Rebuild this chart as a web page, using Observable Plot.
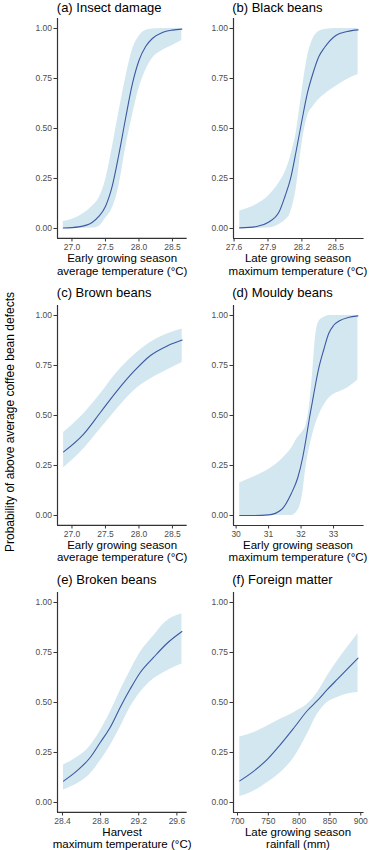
<!DOCTYPE html>
<html>
<head>
<meta charset="utf-8">
<script src="https://cdn.jsdelivr.net/npm/d3@7"></script>
<script src="https://cdn.jsdelivr.net/npm/@observablehq/plot@0.6"></script>
<style>
  html, body { margin: 0; padding: 0; background: #fff; }
  #wrap { position: relative; width: 369px; height: 850px; overflow: hidden; background: #fff;
          font-family: "Liberation Sans", Arial, sans-serif; color: #000; }
  .abs { position: absolute; }
  .ptitle { font-size: 13px; line-height: 15px; white-space: nowrap; }
  .xtitle { font-size: 11.5px; line-height: 12.5px; text-align: center; white-space: nowrap; }
  .ylab { font-size: 12px; line-height: 14px; white-space: nowrap; transform: translate(-50%, -50%) rotate(-90deg); }
</style>
</head>
<body>
<div id="wrap"></div>
<script>
// ---------- data ----------
const panelTitles = ["(a) Insect damage", "(b) Black beans", "(c) Brown beans", "(d) Mouldy beans", "(e) Broken beans", "(f) Foreign matter"];
const xTitles = [
  ["Early growing season", "average temperature (°C)"],
  ["Late growing season", "maximum temperature (°C)"],
  ["Early growing season", "average temperature (°C)"],
  ["Early growing season", "maximum temperature (°C)"],
  ["Harvest", "maximum temperature (°C)"],
  ["Late growing season", "rainfall (mm)"]
];
const yTitle = "Probability of above average coffee bean defects";
const yTicks = [0, 0.25, 0.5, 0.75, 1];

const insectTicks = [27.0, 27.5, 28.0, 28.5];
const insectX    = [26.87, 27.1, 27.3, 27.4, 27.5, 27.6, 27.7, 27.8, 27.9, 28.0, 28.1, 28.2, 28.35, 28.5, 28.64];
const insectMean = [0.002, 0.008, 0.03, 0.06, 0.11, 0.21, 0.37, 0.55, 0.72, 0.84, 0.91, 0.95, 0.98, 0.992, 0.997];
const insectLo   = [0, 0, 0.002, 0.01, 0.05, 0.10, 0.21, 0.40, 0.56, 0.70, 0.79, 0.85, 0.89, 0.915, 0.94];
const insectHi   = [0.035, 0.06, 0.11, 0.15, 0.24, 0.40, 0.58, 0.75, 0.89, 0.96, 0.99, 0.997, 1, 1, 1];

const blackTicks = [27.6, 27.9, 28.2, 28.5];
const blackX    = [27.65, 27.8, 27.9, 28.0, 28.05, 28.1, 28.15, 28.2, 28.25, 28.3, 28.35, 28.4, 28.5, 28.6, 28.697];
const blackMean = [0.003, 0.01, 0.03, 0.085, 0.16, 0.25, 0.39, 0.54, 0.68, 0.78, 0.86, 0.905, 0.965, 0.985, 0.993];
const blackLo   = [0, 0, 0.002, 0.02, 0.04, 0.08, 0.20, 0.42, 0.56, 0.61, 0.645, 0.67, 0.71, 0.745, 0.77];
const blackHi   = [0.087, 0.12, 0.16, 0.23, 0.28, 0.36, 0.48, 0.68, 0.86, 0.95, 0.985, 0.995, 1, 1, 1];

const brownTicks = [27.0, 27.5, 28.0, 28.5];
const brownX    = [26.875, 27.174, 27.424, 27.673, 27.923, 28.172, 28.422, 28.646];
const brownMean = [0.318, 0.407, 0.515, 0.623, 0.72, 0.80, 0.848, 0.877];
const brownLo   = [0.237, 0.332, 0.432, 0.532, 0.623, 0.682, 0.727, 0.765];
const brownHi   = [0.415, 0.507, 0.607, 0.715, 0.80, 0.865, 0.907, 0.932];

const mouldyTicks = [30, 31, 32, 33];
const mouldyX    = [30.11, 30.5, 31.0, 31.4, 31.7, 31.9, 32.05, 32.15, 32.25, 32.35, 32.45, 32.55, 32.7, 32.85, 33.0, 33.2, 33.45, 33.75];
const mouldyMean = [0, 0, 0.003, 0.03, 0.11, 0.19, 0.29, 0.38, 0.48, 0.57, 0.66, 0.74, 0.83, 0.91, 0.95, 0.975, 0.99, 0.998];
const mouldyLo   = [0, 0, 0, 0, 0, 0.025, 0.11, 0.24, 0.33, 0.40, 0.457, 0.50, 0.55, 0.585, 0.605, 0.62, 0.64, 0.677];
const mouldyHi   = [0.162, 0.19, 0.23, 0.28, 0.335, 0.39, 0.42, 0.45, 0.54, 0.70, 0.90, 0.97, 0.99, 1, 1, 1, 1, 1];

const brokenTicks = [28.4, 28.8, 29.2, 29.6];
const brokenX    = [28.411, 28.551, 28.691, 28.796, 28.9, 29.005, 29.11, 29.216, 29.355, 29.495, 29.653];
const brokenMean = [0.107, 0.158, 0.225, 0.30, 0.375, 0.475, 0.567, 0.65, 0.725, 0.795, 0.855];
const brokenLo   = [0.062, 0.092, 0.142, 0.208, 0.283, 0.375, 0.475, 0.55, 0.617, 0.658, 0.692];
const brokenHi   = [0.188, 0.225, 0.283, 0.358, 0.45, 0.558, 0.658, 0.75, 0.833, 0.908, 0.942];

const foreignTicks = [700, 750, 800, 850, 900];
const foreignX    = [703.7, 727, 748.7, 770.2, 792, 813.5, 829.8, 845.9, 862.2, 878.4, 895.6];
const foreignMean = [0.108, 0.158, 0.217, 0.292, 0.375, 0.46, 0.51, 0.565, 0.617, 0.668, 0.722];
const foreignLo   = [0.03, 0.058, 0.10, 0.15, 0.225, 0.342, 0.442, 0.50, 0.525, 0.542, 0.55];
const foreignHi   = [0.328, 0.35, 0.383, 0.417, 0.45, 0.492, 0.55, 0.633, 0.708, 0.775, 0.845];

// ---------- layout ----------
const series = [
  {x: insectX, m: insectMean, lo: insectLo, hi: insectHi, ticks: insectTicks, fmt: ".1f", domain: [26.784, 28.72]},
  {x: blackX, m: blackMean, lo: blackLo, hi: blackHi, ticks: blackTicks, fmt: ".1f", domain: [27.595, 28.75]},
  {x: brownX, m: brownMean, lo: brownLo, hi: brownHi, ticks: brownTicks, fmt: ".1f", domain: [26.784, 28.72]},
  {x: mouldyX, m: mouldyMean, lo: mouldyLo, hi: mouldyHi, ticks: mouldyTicks, fmt: "d", domain: [29.92, 33.94]},
  {x: brokenX, m: brokenMean, lo: brokenLo, hi: brokenHi, ticks: brokenTicks, fmt: ".1f", domain: [28.348, 29.708]},
  {x: foreignX, m: foreignMean, lo: foreignLo, hi: foreignHi, ticks: foreignTicks, fmt: "d", domain: [693.5, 905.4]}
];
const colLeft = [57.3, 232.7], colRight = [187, 363.3];
const rowTop = [18, 304.7, 591.7];
const panelH = 220;
const mL = 45, mT = 2, mR = 4, mB = 20;

const wrap = document.getElementById("wrap");

series.forEach((s, i) => {
  const col = i % 2, row = Math.floor(i / 2);
  const pl = colLeft[col], pr = colRight[col], pt = rowTop[row];
  const pw = pr - pl;
  const data = s.x.map((x, k) => ({x, m: s.m[k], lo: s.lo[k], hi: s.hi[k]}));
  const chart = Plot.plot({
    width: mL + pw + mR,
    height: mT + panelH + mB,
    marginLeft: mL, marginRight: mR, marginTop: mT, marginBottom: mB,
    style: {fontFamily: '"Liberation Sans", Arial, sans-serif', fontSize: "8.5px", color: "#4d4d4d", background: "transparent", overflow: "visible"},
    x: {domain: s.domain},
    y: {domain: [-0.05, 1.05]},
    marks: [
      Plot.areaY(data, {x: "x", y1: "lo", y2: "hi", fill: "#d3e7f0", curve: "monotone-x"}),
      Plot.lineY(data, {x: "x", y: "m", stroke: "#3d59a3", strokeWidth: 1.1, curve: "monotone-x"}),
      Plot.ruleX([s.domain[0]], {stroke: "#333", strokeWidth: 1.2}),
      Plot.ruleY([-0.05], {stroke: "#333", strokeWidth: 1.2}),
      Plot.axisY(yTicks, {tickFormat: d3.format(".2f"), tickSize: 3.5, tickPadding: 2, label: null, stroke: "#333"}),
      Plot.axisX(s.ticks, {tickFormat: d3.format(s.fmt), tickSize: 3.5, tickPadding: 1.5, label: null, stroke: "#333"})
    ]
  });
  chart.classList.add("abs");
  chart.style.left = (pl - mL) + "px";
  chart.style.top = (pt - mT) + "px";
  wrap.appendChild(chart);

  const t = document.createElement("div");
  t.className = "abs ptitle";
  t.textContent = panelTitles[i];
  t.style.left = (pl - 0.5) + "px";
  t.style.top = Math.max(0, pt - 20) + "px";
  wrap.appendChild(t);

  const xt = document.createElement("div");
  xt.className = "abs xtitle";
  xt.style.left = (pl + pw / 2 - 100) + "px";
  xt.style.width = "200px";
  xt.style.top = (pt + panelH + 14) + "px";
  xTitles[i].forEach((line, k) => {
    const d = document.createElement("div");
    d.textContent = line;
    xt.appendChild(d);
  });
  wrap.appendChild(xt);
});

const yl = document.createElement("div");
yl.className = "abs ylab";
yl.textContent = yTitle;
yl.style.left = "10px";
yl.style.top = "422px";
wrap.appendChild(yl);
</script>
</body>
</html>
